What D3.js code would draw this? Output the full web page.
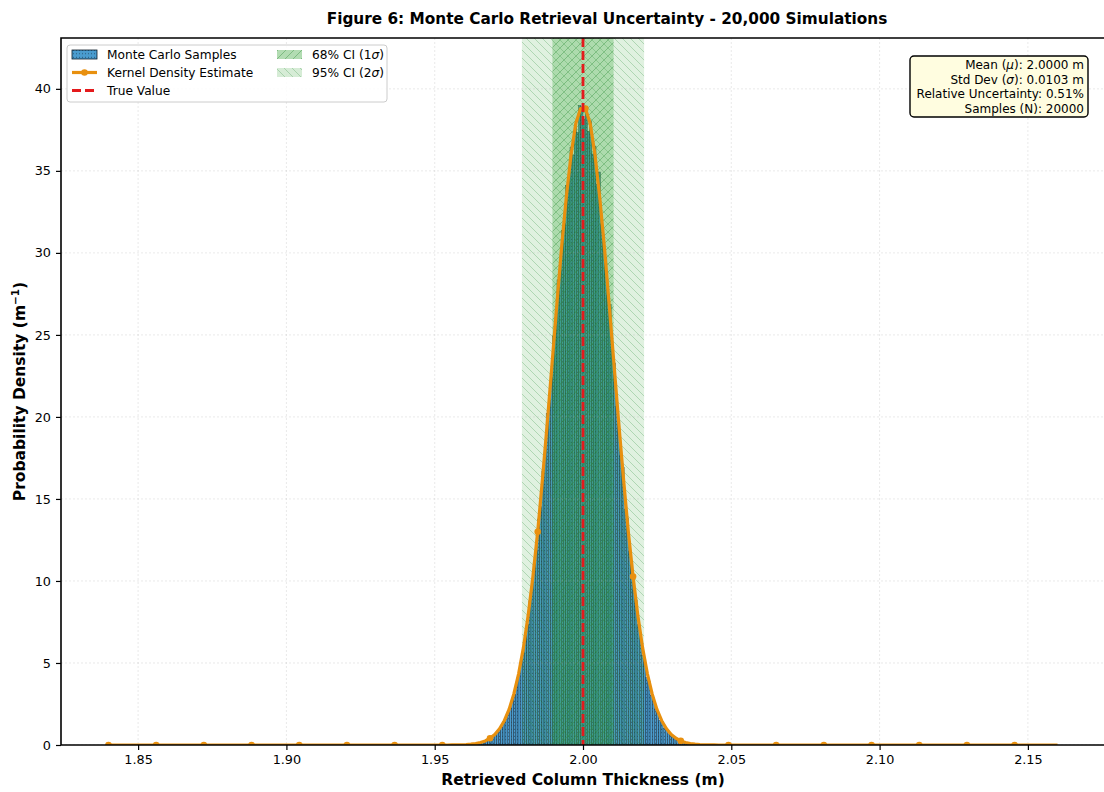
<!DOCTYPE html>
<html>
<head>
<meta charset="utf-8">
<script src="https://cdn.jsdelivr.net/npm/d3@7"></script>
<style>
  html, body { margin: 0; padding: 0; background: #ffffff; }
  svg { display: block; font-family: "DejaVu Sans", sans-serif; }
</style>
</head>
<body>
<svg id="chart" width="1104" height="792"></svg>
<script>
// Histogram of the retrieved thickness (density, m^-1), 100 equal bins
const binStart = 1.9635;
const binWidth = 0.00073;
const histDensity = [
  0.07, 0.07, 0.14, 0.21, 0.14, 0.27, 0.41, 0.34, 0.55, 0.62,
  0.82, 0.96, 1.10, 1.44, 1.58, 2.05, 2.26, 2.81, 3.08, 3.84,
  4.25, 5.14, 5.62, 6.85, 7.33, 8.77, 9.52, 11.10, 11.85, 13.77,
  14.52, 16.71, 17.53, 20.21, 21.03, 22.40, 24.93, 25.62, 28.36, 28.90,
  31.37, 31.78, 34.11, 34.52, 36.44, 35.96, 37.81, 37.33, 38.97, 38.70,
  38.15, 38.84, 37.40, 38.01, 36.03, 36.51, 34.18, 34.93, 31.71, 31.10,
  29.73, 27.41, 26.86, 24.11, 23.29, 20.62, 19.73, 17.67, 16.92, 14.38,
  13.84, 11.78, 11.23, 9.45, 8.84, 7.33, 6.78, 5.48, 5.21, 4.11,
  3.90, 3.01, 2.88, 2.19, 2.05, 1.51, 1.44, 1.03, 0.96, 0.68,
  0.62, 0.48, 0.41, 0.27, 0.34, 0.14, 0.21, 0.07, 0.14, 0.07
];

// Kernel density estimate on an evenly spaced grid of 200 points
const kdeStart = 1.84;
const kdeEnd = 2.16;
const kdeDensity = [
  0, 0, 0, 0, 0, 0, 0, 0, 0, 0,
  0, 0, 0, 0, 0, 0, 0, 0, 0, 0,
  0, 0, 0, 0, 0, 0, 0, 0, 0, 0,
  0, 0, 0, 0, 0, 0, 0, 0, 0, 0,
  0, 0, 0, 0, 0, 0, 0, 0, 0, 0,
  0, 0, 0, 0, 0, 0, 0, 0, 0, 0,
  0, 0, 0, 0, 0, 0, 0, 0, 0, 0,
  0, 0, 0.005, 0.009, 0.016, 0.029, 0.052, 0.09, 0.15, 0.25,
  0.41, 0.64, 0.99, 1.48, 2.17, 3.11, 4.34, 5.92, 7.89, 10.27,
  13.0, 16.2, 19.6, 23.2, 26.8, 30.3, 33.4, 36.0, 37.9, 38.8,
  38.8, 37.9, 36.0, 33.4, 30.3, 26.8, 23.2, 19.6, 16.2, 13.0,
  10.27, 7.89, 5.92, 4.34, 3.11, 2.17, 1.48, 0.99, 0.64, 0.41,
  0.25, 0.15, 0.09, 0.052, 0.029, 0.016, 0.009, 0.005, 0, 0,
  0, 0, 0, 0, 0, 0, 0, 0, 0, 0,
  0, 0, 0, 0, 0, 0, 0, 0, 0, 0,
  0, 0, 0, 0, 0, 0, 0, 0, 0, 0,
  0, 0, 0, 0, 0, 0, 0, 0, 0, 0,
  0, 0, 0, 0, 0, 0, 0, 0, 0, 0,
  0, 0, 0, 0, 0, 0, 0, 0, 0, 0,
  0, 0, 0, 0, 0, 0, 0, 0, 0, 0
];
const kdeMarkEvery = 10;

// Summary statistics
const trueValue = 2.0;
const meanValue = 2.0000;
const stdValue = 0.0103;
const relUncertainty = 0.51;
const nSamples = 20000;

const xTicks = [1.85, 1.90, 1.95, 2.00, 2.05, 2.10, 2.15];
const yTicks = [0, 5, 10, 15, 20, 25, 30, 35, 40];
const xDomain = [1.824, 2.176];
const yDomain = [0, 43.1];

const titleText = "Figure 6: Monte Carlo Retrieval Uncertainty - 20,000 Simulations";
const xLabelText = "Retrieved Column Thickness (m)";

// ---------------------------------------------------------------
const svg = d3.select("#chart");
const plot = { left: 61, right: 1105, top: 38, bottom: 745 };
const titleCenterX = 607;

const x = d3.scaleLinear().domain(xDomain).range([plot.left, plot.right]);
const y = d3.scaleLinear().domain(yDomain).range([plot.bottom, plot.top]);

const defs = svg.append("defs");
defs.append("clipPath").attr("id", "plotClip")
  .append("rect")
  .attr("x", plot.left).attr("y", plot.top)
  .attr("width", plot.right - plot.left).attr("height", plot.bottom - plot.top);

// Dotted hatch for the histogram bars
const dotPat = defs.append("pattern").attr("id", "dots")
  .attr("patternUnits", "userSpaceOnUse").attr("width", 3).attr("height", 3.5);
dotPat.append("rect").attr("width", 3).attr("height", 3.5).attr("fill", "#4a9ccf");
dotPat.append("circle").attr("cx", 1.5).attr("cy", 1.2).attr("r", 0.55)
  .attr("fill", "#10263a").attr("opacity", 0.7);

// Diagonal hatches for the confidence spans
function diagPattern(id, forward, color, opacity) {
  const s = 8;
  const p = defs.append("pattern").attr("id", id)
    .attr("patternUnits", "userSpaceOnUse").attr("width", s).attr("height", s);
  const d = forward
    ? `M0,${s} L${s},0 M${-s/2},${s/2} L${s/2},${-s/2} M${s/2},${s*1.5} L${s*1.5},${s/2}`
    : `M0,0 L${s},${s} M${-s/2},${s/2} L${s/2},${s*1.5} M${s/2},${-s/2} L${s*1.5},${s/2}`;
  p.append("path").attr("d", d).attr("stroke", color)
    .attr("stroke-width", 0.9).attr("stroke-opacity", opacity).attr("fill", "none");
}
diagPattern("hatch68", true, "#2e8b3a", 0.45);
diagPattern("hatch95", false, "#2e8b3a", 0.30);

const gPlot = svg.append("g").attr("clip-path", "url(#plotClip)");

// Histogram bars
gPlot.append("g").selectAll("rect")
  .data(histDensity)
  .join("rect")
  .attr("x", (d, i) => x(binStart + i * binWidth))
  .attr("width", (d, i) => x(binStart + (i + 1) * binWidth) - x(binStart + i * binWidth))
  .attr("y", d => y(d))
  .attr("height", d => y(0) - y(d))
  .attr("fill", "url(#dots)")
  .attr("stroke", "#0c1a26")
  .attr("stroke-width", 0.5)
  .attr("stroke-opacity", 0.8);

// Confidence interval spans
const spans = [
  { lo: meanValue - 2 * stdValue, hi: meanValue + 2 * stdValue, fill: "#2ca02c", alpha: 0.15, hatch: "hatch95" },
  { lo: meanValue - stdValue, hi: meanValue + stdValue, fill: "#2ca02c", alpha: 0.28, hatch: "hatch68" }
];
spans.forEach(s => {
  gPlot.append("rect")
    .attr("x", x(s.lo)).attr("width", x(s.hi) - x(s.lo))
    .attr("y", plot.top).attr("height", plot.bottom - plot.top)
    .attr("fill", s.fill).attr("fill-opacity", s.alpha);
  gPlot.append("rect")
    .attr("x", x(s.lo)).attr("width", x(s.hi) - x(s.lo))
    .attr("y", plot.top).attr("height", plot.bottom - plot.top)
    .attr("fill", `url(#${s.hatch})`);
});

// Grid
const gGrid = gPlot.append("g");
gGrid.selectAll("line.gx").data(xTicks).join("line")
  .attr("x1", d => x(d)).attr("x2", d => x(d))
  .attr("y1", plot.top).attr("y2", plot.bottom)
  .attr("stroke", "#b0b0b0").attr("stroke-opacity", 0.35)
  .attr("stroke-width", 0.8).attr("stroke-dasharray", "2,2");
gGrid.selectAll("line.gy").data(yTicks).join("line")
  .attr("x1", plot.left).attr("x2", plot.right)
  .attr("y1", d => y(d)).attr("y2", d => y(d))
  .attr("stroke", "#b0b0b0").attr("stroke-opacity", 0.35)
  .attr("stroke-width", 0.8).attr("stroke-dasharray", "2,2");

// KDE curve with markers
const kdeStep = (kdeEnd - kdeStart) / (kdeDensity.length - 1);
const kdePts = kdeDensity.map((v, i) => [kdeStart + i * kdeStep, v]);
const kdeColor = "#e8900f";
gPlot.append("path")
  .datum(kdePts)
  .attr("fill", "none")
  .attr("stroke", kdeColor)
  .attr("stroke-width", 3.2)
  .attr("stroke-linejoin", "round")
  .attr("d", d3.line().x(d => x(d[0])).y(d => y(d[1])));
gPlot.append("g").selectAll("circle")
  .data(kdePts.filter((d, i) => i % kdeMarkEvery === 0))
  .join("circle")
  .attr("cx", d => x(d[0])).attr("cy", d => y(d[1]))
  .attr("r", 3.3).attr("fill", kdeColor);

// True value line
gPlot.append("line")
  .attr("x1", x(trueValue)).attr("x2", x(trueValue))
  .attr("y1", plot.top).attr("y2", plot.bottom)
  .attr("stroke", "#e41a1c").attr("stroke-width", 2.8)
  .attr("stroke-dasharray", "9,4");

// Axes
const xAxis = svg.append("g")
  .attr("transform", `translate(0,${plot.bottom})`)
  .call(d3.axisBottom(x).tickValues(xTicks).tickFormat(d3.format(".2f")).tickSize(5).tickPadding(5));
const yAxis = svg.append("g")
  .attr("transform", `translate(${plot.left},0)`)
  .call(d3.axisLeft(y).tickValues(yTicks).tickFormat(d3.format("d")).tickSize(5).tickPadding(5));
[xAxis, yAxis].forEach(a => {
  a.select(".domain").remove();
  a.selectAll(".tick line").attr("stroke", "#000").attr("stroke-width", 1.2);
  a.selectAll(".tick text").attr("fill", "#000")
    .style("font-size", "12.8px").style("font-family", "DejaVu Sans, sans-serif");
});

// Spines
svg.append("path")
  .attr("d", `M${plot.left},${plot.bottom} L${plot.left},${plot.top} L${plot.right},${plot.top}`)
  .attr("fill", "none").attr("stroke", "#000").attr("stroke-width", 1.6);
svg.append("line")
  .attr("x1", plot.left).attr("x2", plot.right)
  .attr("y1", plot.bottom).attr("y2", plot.bottom)
  .attr("stroke", "#000").attr("stroke-width", 1.6);
svg.append("line")
  .attr("x1", plot.right).attr("x2", plot.right)
  .attr("y1", plot.top).attr("y2", plot.bottom)
  .attr("stroke", "#000").attr("stroke-width", 1.6);

// Title and axis labels
svg.append("text")
  .attr("x", titleCenterX).attr("y", 24)
  .attr("text-anchor", "middle")
  .style("font-size", "15.3px").style("font-weight", "bold")
  .text(titleText);
svg.append("text")
  .attr("x", (plot.left + plot.right) / 2).attr("y", 785)
  .attr("text-anchor", "middle")
  .style("font-size", "15.5px").style("font-weight", "bold")
  .text(xLabelText);
const yLab = svg.append("text")
  .attr("transform", `translate(25,${(plot.top + plot.bottom) / 2}) rotate(-90)`)
  .attr("text-anchor", "middle")
  .style("font-size", "15.5px").style("font-weight", "bold");
yLab.append("tspan").text("Probability Density (m");
yLab.append("tspan").attr("dy", -6).style("font-size", "10.5px").text("\u22121");
yLab.append("tspan").attr("dy", 6).text(")");

// Legend
const leg = svg.append("g");
leg.append("rect")
  .attr("x", 67).attr("y", 45).attr("width", 320).attr("height", 57)
  .attr("rx", 3).attr("fill", "#fff").attr("fill-opacity", 0.85)
  .attr("stroke", "#cccccc").attr("stroke-width", 1);
const rowY = [54.5, 72.5, 90.5];
const col1 = 72, col2 = 277, patchW = 25, textOff = 35;
const legFont = "12.2px";
// Monte Carlo samples patch
leg.append("rect").attr("x", col1).attr("y", rowY[0] - 4.5).attr("width", patchW).attr("height", 9)
  .attr("fill", "url(#dots)").attr("stroke", "#0c1a26").attr("stroke-width", 0.8);
// KDE line
leg.append("line").attr("x1", col1).attr("x2", col1 + patchW).attr("y1", rowY[1]).attr("y2", rowY[1])
  .attr("stroke", kdeColor).attr("stroke-width", 3.2);
leg.append("circle").attr("cx", col1 + patchW / 2).attr("cy", rowY[1]).attr("r", 3.3).attr("fill", kdeColor);
// True value
leg.append("line").attr("x1", col1).attr("x2", col1 + patchW).attr("y1", rowY[2]).attr("y2", rowY[2])
  .attr("stroke", "#e41a1c").attr("stroke-width", 2.8).attr("stroke-dasharray", "9,4");
// CI patches
[[spans[1], rowY[0]], [spans[0], rowY[1]]].forEach(([s, ry]) => {
  leg.append("rect").attr("x", col2).attr("y", ry - 4.5).attr("width", patchW).attr("height", 9)
    .attr("fill", s.fill).attr("fill-opacity", s.alpha * 1.3);
  leg.append("rect").attr("x", col2).attr("y", ry - 4.5).attr("width", patchW).attr("height", 9)
    .attr("fill", `url(#${s.hatch})`);
});
function legText(xp, yp, parts) {
  const t = leg.append("text").attr("x", xp).attr("y", yp).attr("dy", "0.35em")
    .style("font-size", legFont);
  parts.forEach(p => {
    const ts = t.append("tspan").text(p[0]);
    if (p[1]) ts.style("font-style", "italic");
  });
}
legText(col1 + textOff, rowY[0], [["Monte Carlo Samples"]]);
legText(col1 + textOff, rowY[1], [["Kernel Density Estimate"]]);
legText(col1 + textOff, rowY[2], [["True Value"]]);
legText(col2 + textOff, rowY[0], [["68% CI (1"], ["\u03c3", true], [")"]]);
legText(col2 + textOff, rowY[1], [["95% CI (2"], ["\u03c3", true], [")"]]);

// Statistics box
const stats = svg.append("g");
stats.append("rect")
  .attr("x", 910).attr("y", 56).attr("width", 178).attr("height", 61)
  .attr("rx", 4).attr("fill", "#fffde0").attr("stroke", "#000").attr("stroke-width", 1.4);
const statLines = [
  [["Mean ("], ["\u03bc", true], [`): ${meanValue.toFixed(4)} m`]],
  [["Std Dev ("], ["\u03c3", true], [`): ${stdValue.toFixed(4)} m`]],
  [[`Relative Uncertainty: ${relUncertainty.toFixed(2)}%`]],
  [[`Samples (N): ${nSamples}`]]
];
statLines.forEach((parts, i) => {
  const t = stats.append("text").attr("x", 1084).attr("y", 65 + i * 14.6).attr("dy", "0.35em")
    .attr("text-anchor", "end").style("font-size", "12px");
  parts.forEach(p => {
    const ts = t.append("tspan").text(p[0]);
    if (p[1]) ts.style("font-style", "italic");
  });
});
</script>
</body>
</html>
